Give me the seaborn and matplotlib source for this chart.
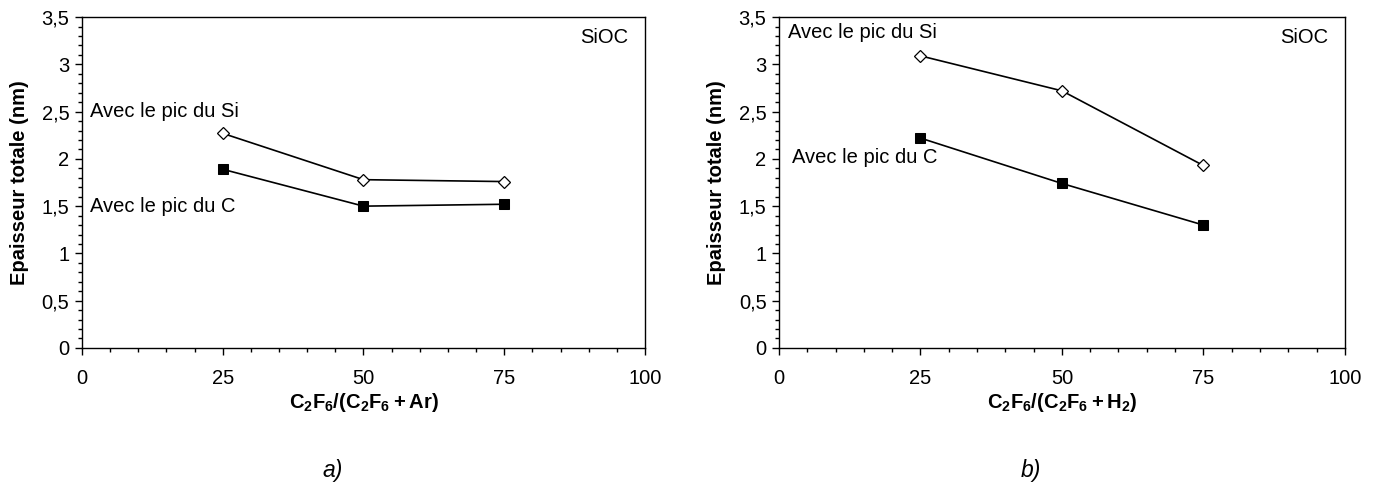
import numpy as np
import pandas as pd
import matplotlib
matplotlib.use("Agg")
import matplotlib.pyplot as plt
import seaborn as sns
from matplotlib.ticker import MultipleLocator, FuncFormatter

# data
ratio = [25, 50, 75]
ar_si = [2.27, 1.78, 1.76]
ar_c = [1.89, 1.50, 1.52]
h2_si = [3.09, 2.72, 1.93]
h2_c = [2.22, 1.74, 1.30]
xlabels = [r"$\mathbf{C_2F_6/(C_2F_6 + Ar)}$", r"$\mathbf{C_2F_6/(C_2F_6 + H_2)}$"]
captions = ["a)", "b)"]

sns.set_theme(style="ticks")
plt.rcParams["font.family"] = ["Liberation Sans", "DejaVu Sans"]
plt.rcParams["mathtext.fontset"] = "custom"
plt.rcParams["mathtext.rm"] = "Liberation Sans"
plt.rcParams["mathtext.bf"] = "Liberation Sans:bold"

fig = plt.figure(figsize=(13.8, 4.88), dpi=100)
ax1 = fig.add_axes([0.0594, 0.287, 0.408, 0.678])
ax2 = fig.add_axes([0.5645, 0.287, 0.410, 0.678])

FS = 14.5

panels = [
    (ax1, ar_si, ar_c, xlabels[0], captions[0],
     [(1.4, 2.5), (1.4, 1.5)]),
    (ax2, h2_si, h2_c, xlabels[1], captions[1],
     [(1.6, 3.34), (2.3, 2.01)]),
]

comma = FuncFormatter(lambda v, p: f"{v:g}".replace(".", ","))

for ax, si, c, xl, cap, txt in panels:
    df = pd.DataFrame({"x": ratio * 2, "y": si + c,
                       "serie": ["Si"] * 3 + ["C"] * 3})
    sns.lineplot(data=df[df.serie == "Si"], x="x", y="y", ax=ax,
                 color="black", lw=1.2, marker="D", markersize=6,
                 markerfacecolor="white", markeredgecolor="black",
                 markeredgewidth=0.9)
    sns.lineplot(data=df[df.serie == "C"], x="x", y="y", ax=ax,
                 color="black", lw=1.2, marker="s", markersize=7,
                 markerfacecolor="black", markeredgecolor="black")

    ax.set_xlim(0, 100)
    ax.set_ylim(0, 3.5)
    ax.xaxis.set_major_locator(MultipleLocator(25))
    ax.xaxis.set_minor_locator(MultipleLocator(5))
    ax.yaxis.set_major_locator(MultipleLocator(0.5))
    ax.yaxis.set_minor_locator(MultipleLocator(0.1))
    ax.yaxis.set_major_formatter(comma)
    ax.tick_params(which="major", length=5, width=1, labelsize=FS,
                   color="black", labelcolor="black", direction="out")
    ax.tick_params(which="minor", length=3, width=1, color="black")
    ax.tick_params(axis="x", pad=10)
    ax.tick_params(axis="y", pad=4)
    for s in ax.spines.values():
        s.set_color("black")
        s.set_linewidth(1)

    ax.set_xlabel(xl, fontsize=FS, labelpad=2, color="black")
    ax.set_ylabel("Epaisseur totale (nm)", fontsize=FS, fontweight="bold",
                  color="black", labelpad=9)

    ax.text(txt[0][0], txt[0][1], "Avec le pic du Si", fontsize=FS,
            va="center", ha="left", color="black")
    ax.text(txt[1][0], txt[1][1], "Avec le pic du C", fontsize=FS,
            va="center", ha="left", color="black")
    ax.text(88.5, 3.28, "SiOC", fontsize=FS, ha="left", va="center",
            color="black")
    ax.text(0.445, -0.37, cap, transform=ax.transAxes, fontsize=16.5,
            style="italic", ha="center", va="center", color="black")

fig.savefig("out.png", dpi=100, facecolor="white")
